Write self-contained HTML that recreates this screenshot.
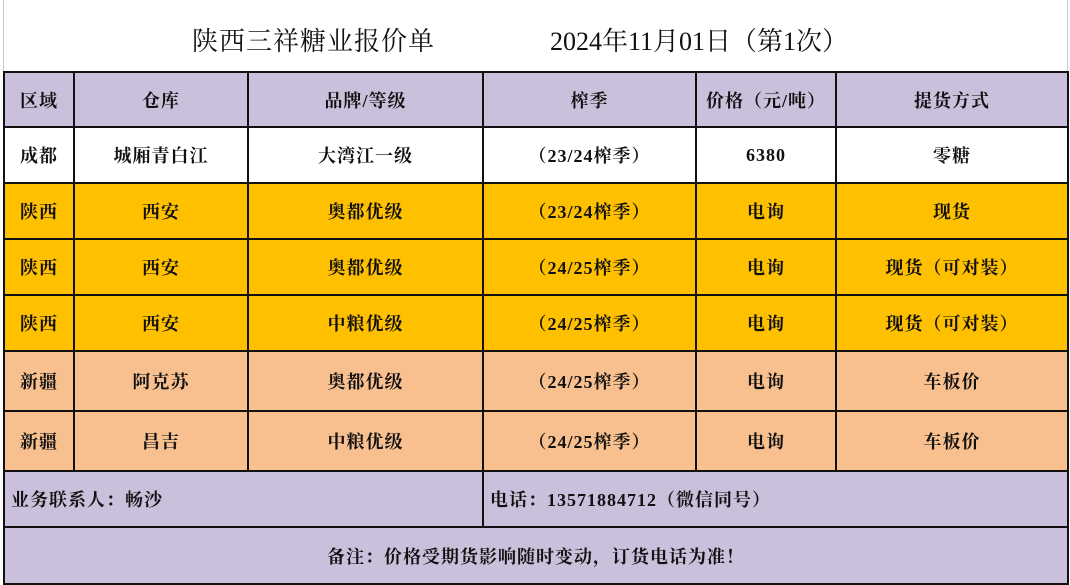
<!DOCTYPE html>
<html><head><meta charset="utf-8"><style>
body{margin:0;width:1070px;height:585px;background:#fff;position:relative;overflow:hidden;font-family:"Liberation Serif","Noto Serif CJK SC",serif;font-weight:bold;color:#111}
.c{position:absolute;box-sizing:border-box;border-right:2px solid #111;border-bottom:2px solid #111;display:flex;align-items:center;justify-content:center;font-size:18px;letter-spacing:1px}
.t{position:absolute;font-size:26px;font-weight:normal;top:21px;white-space:nowrap}
</style></head><body>
<div style="position:absolute;left:3px;top:0;width:1065px;height:72px;border-left:1px solid #ccc;border-right:1px solid #ccc;box-sizing:border-box"></div>
<div class="t" style="left:192px;letter-spacing:1px">陕西三祥糖业报价单</div>
<div class="t" style="left:550px">2024年11月01日（第1次）</div>
<div id="g"></div>
<script>
const cols=[3,75,249,484,697,837,1069];
const rows=[71,128,184,240,296,352,412,472,528,585];
const data=[
["#cbc0dc",["区域","仓库","品牌/等级","榨季","价格（元/吨）","提货方式"]],
["#ffffff",["成都","城厢青白江","大湾江一级","（23/24榨季）","6380","零糖"]],
["#ffc000",["陕西","西安","奥都优级","（23/24榨季）","电询","现货"]],
["#ffc000",["陕西","西安","奥都优级","（24/25榨季）","电询","现货（可对装）"]],
["#ffc000",["陕西","西安","中粮优级","（24/25榨季）","电询","现货（可对装）"]],
["#f9c08f",["新疆","阿克苏","奥都优级","（24/25榨季）","电询","车板价"]],
["#f9c08f",["新疆","昌吉","中粮优级","（24/25榨季）","电询","车板价"]]];
let h="";
data.forEach((r,i)=>{r[1].forEach((t,j)=>{
h+=`<div class="c" style="background:${r[0]};left:${cols[j]}px;top:${rows[i]}px;width:${cols[j+1]-cols[j]}px;height:${rows[i+1]-rows[i]}px;${j==0?'border-left:2px solid #111;':''}${i==0?'border-top:2px solid #111;':''}">${t}</div>`;});});
h+=`<div class="c" style="background:#cbc0dc;border-left:2px solid #111;left:3px;top:472px;width:483px;height:56px;justify-content:flex-start;padding-left:6px">业务联系人：畅沙</div>`;
h+=`<div class="c" style="background:#cbc0dc;border-left:2px solid #111;left:482px;top:472px;width:587px;height:56px;justify-content:flex-start;padding-left:6px">电话：13571884712（微信同号）</div>`;
h+=`<div class="c" style="background:#cbc0dc;border-left:2px solid #111;left:3px;top:528px;width:1066px;height:57px">备注：价格受期货影响随时变动，订货电话为准！</div>`;
document.getElementById("g").innerHTML=h;
</script>
</body></html>
